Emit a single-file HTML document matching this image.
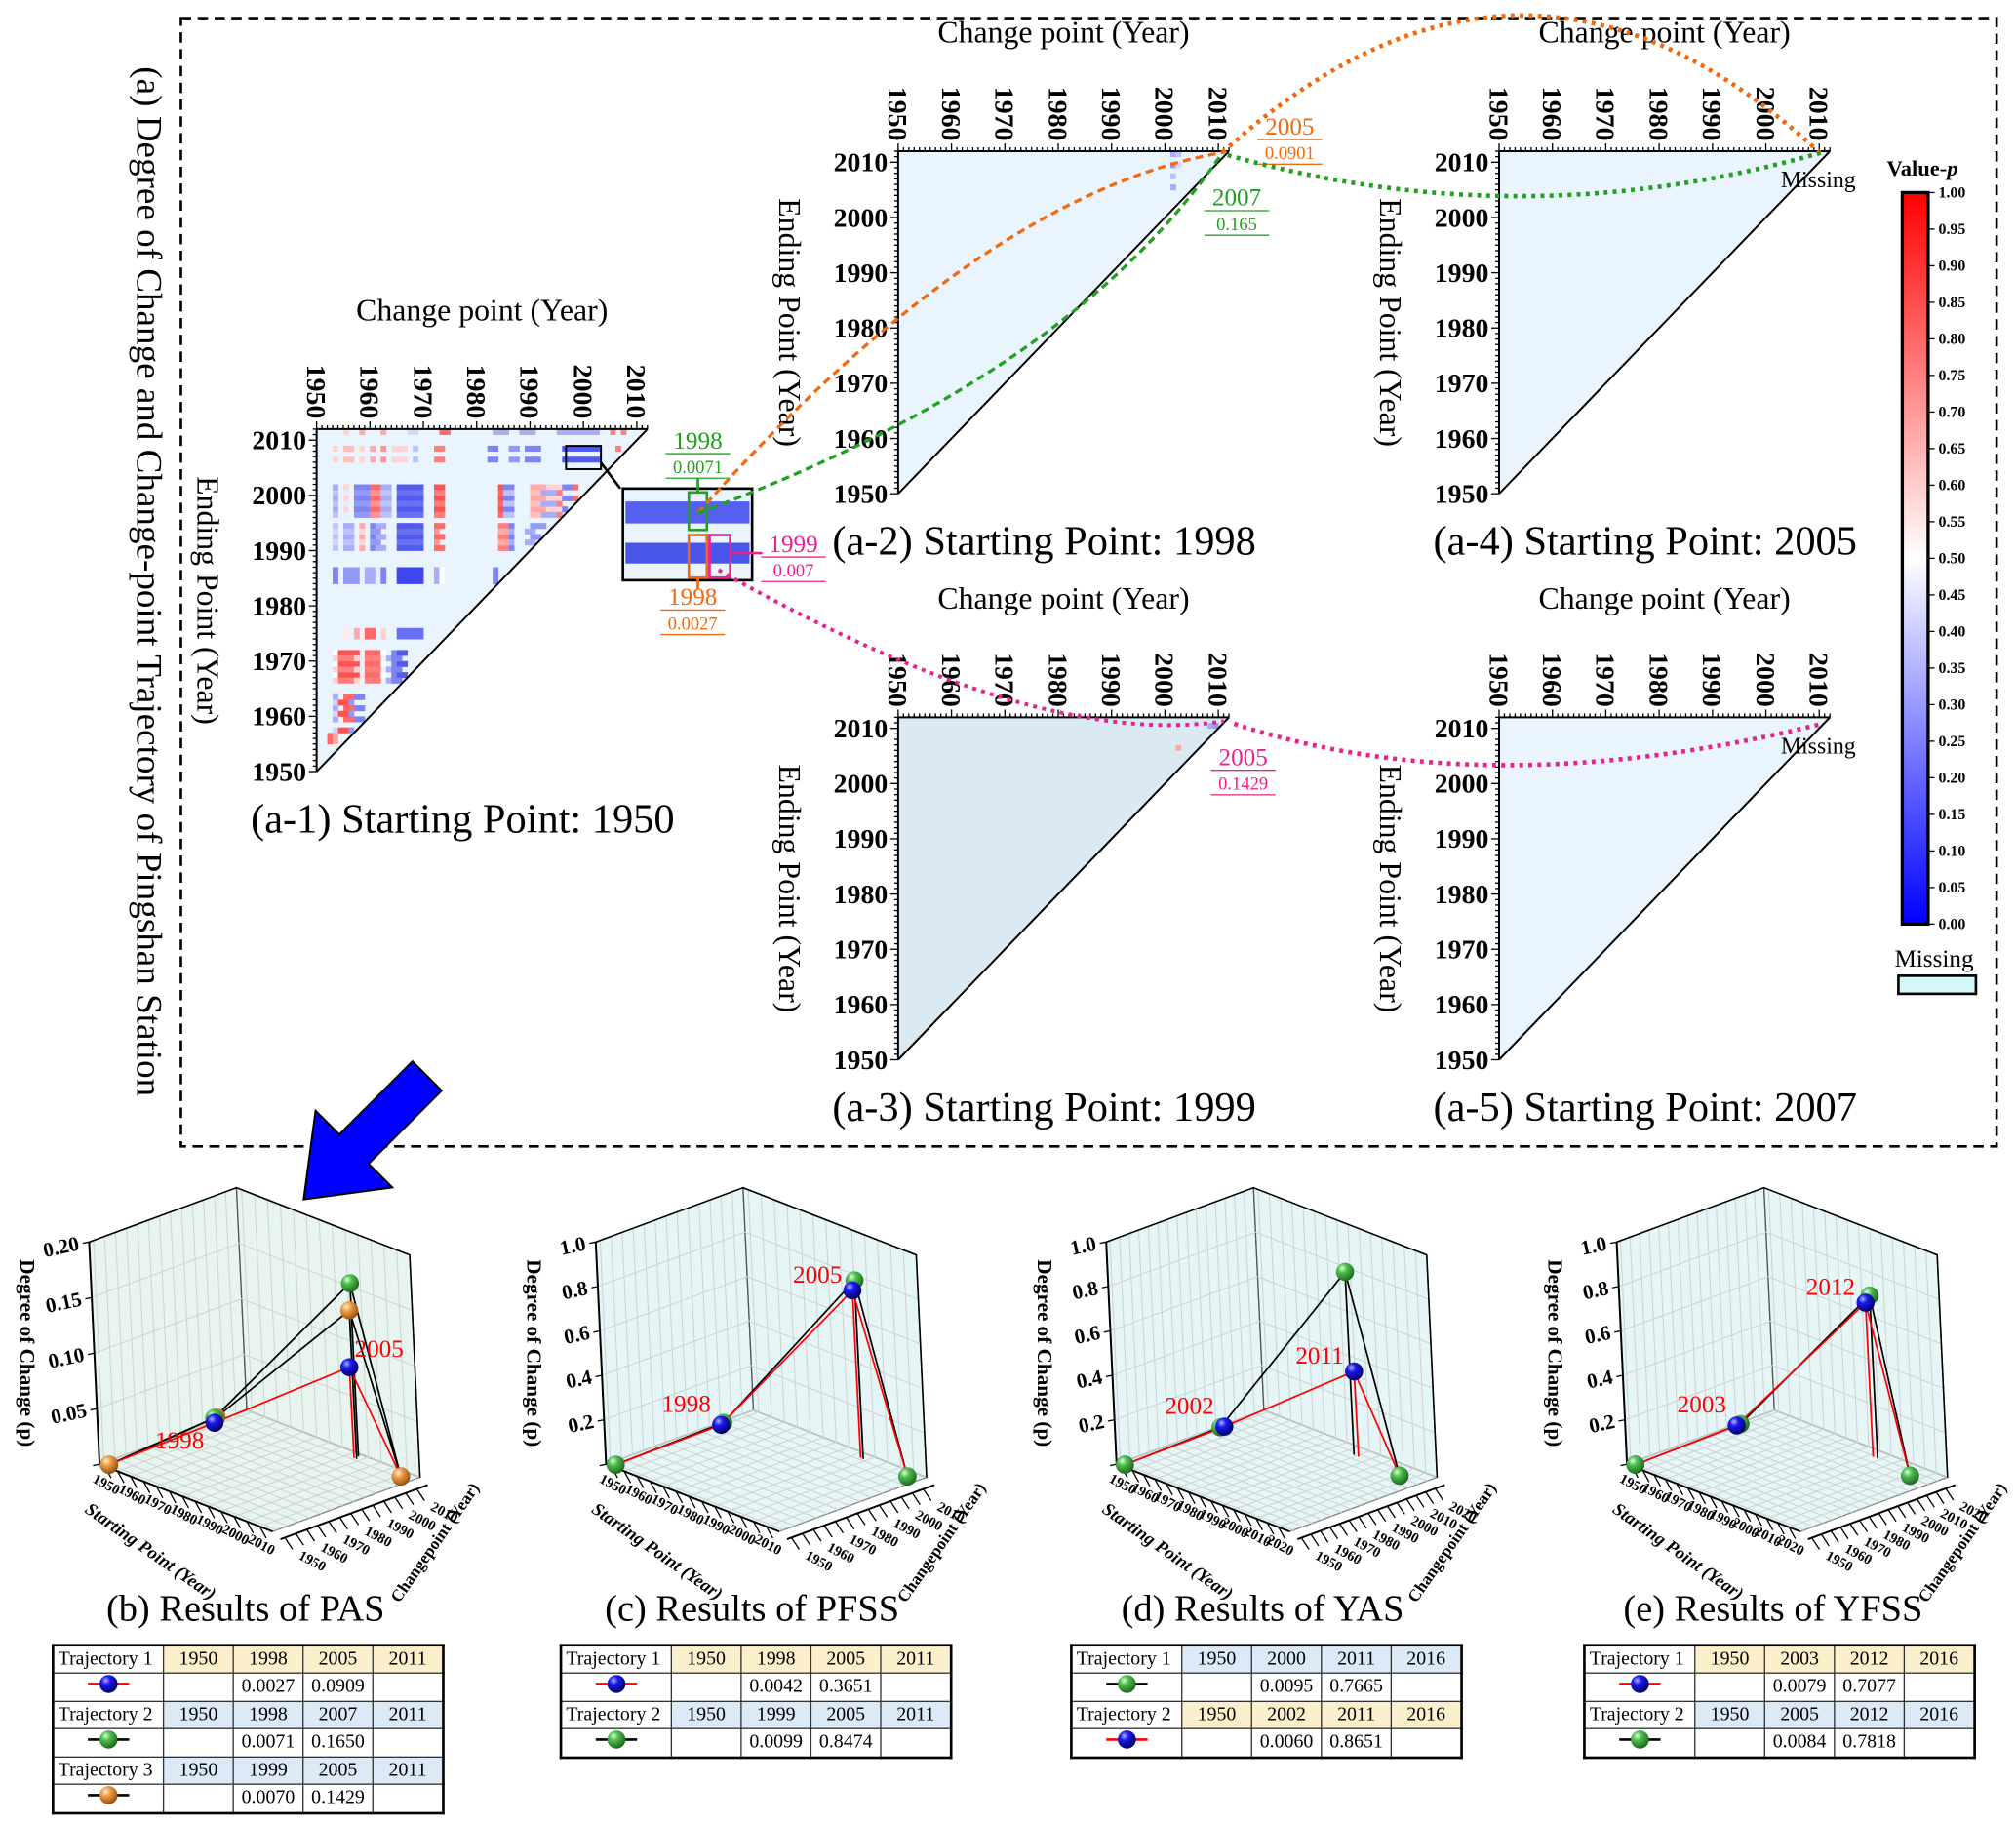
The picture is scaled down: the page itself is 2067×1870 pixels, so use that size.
<!DOCTYPE html>
<html><head><meta charset="utf-8">
<style>
html,body{margin:0;padding:0;background:#fff;width:2067px;height:1870px;overflow:hidden}
#root{width:1560px;height:1411px;transform:scale(1.325);transform-origin:0 0;position:relative}
svg text{font-family:"Liberation Serif",serif}
table.tr{position:absolute;border-collapse:collapse;font-family:"Liberation Serif",serif;font-size:15px;border:2px solid #000}
table.tr td{border:1px solid #333;height:20px;padding:0 3px;text-align:center;white-space:nowrap}
table.tr td.h{text-align:left;width:78px}
table.tr td.v{width:47px}
.y{background:#fbefcc}.b{background:#dce9f6}
</style></head><body>
<div id="root">
<svg id="svg" width="1560" height="1411" viewBox="0 0 1560 1411">
<defs>
<linearGradient id="cb" x1="0" y1="1" x2="0" y2="0">
<stop offset="0" stop-color="#0000ff"/><stop offset="0.5" stop-color="#ffffff"/><stop offset="1" stop-color="#ff0000"/>
</linearGradient>
<radialGradient id="gBlue" cx="0.35" cy="0.3" r="0.7"><stop offset="0" stop-color="#aab4ff"/><stop offset="0.35" stop-color="#1a1aee"/><stop offset="1" stop-color="#00006a"/></radialGradient>
<radialGradient id="gGreen" cx="0.35" cy="0.3" r="0.7"><stop offset="0" stop-color="#e2ffe0"/><stop offset="0.35" stop-color="#4fc04f"/><stop offset="1" stop-color="#1d6b1d"/></radialGradient>
<radialGradient id="gOrange" cx="0.35" cy="0.3" r="0.7"><stop offset="0" stop-color="#fff0d8"/><stop offset="0.35" stop-color="#f0a04a"/><stop offset="1" stop-color="#9a5310"/></radialGradient>
</defs>
<rect x="140" y="14" width="1405" height="873" fill="none" stroke="#000" stroke-width="2" stroke-dasharray="8,5"/>
<text x="0" y="0" transform="translate(106,450) rotate(90)" text-anchor="middle" font-size="28">(a) Degree of Change and Change-point Trajectory of Pingshan Station</text>
<g id="heat"></g>
<g id="deco"></g>
<g id="three"></g>
</svg>

<table class="tr" style="left:40px;top:1272px">
<tr><td class="h">Trajectory 1</td><td class="v y">1950</td><td class="v y">1998</td><td class="v y">2005</td><td class="v y">2011</td></tr>
<tr><td><svg width="40" height="16"><line x1="4" y1="8" x2="36" y2="8" stroke="red" stroke-width="2"/><circle cx="20" cy="8" r="7" fill="url(#gBlue)"/></svg></td><td></td><td>0.0027</td><td>0.0909</td><td></td></tr>
<tr><td class="h">Trajectory 2</td><td class="b">1950</td><td class="b">1998</td><td class="b">2007</td><td class="b">2011</td></tr>
<tr><td><svg width="40" height="16"><line x1="4" y1="8" x2="36" y2="8" stroke="#000" stroke-width="2"/><circle cx="20" cy="8" r="7" fill="url(#gGreen)"/></svg></td><td></td><td>0.0071</td><td>0.1650</td><td></td></tr>
<tr><td class="h">Trajectory 3</td><td class="b">1950</td><td class="b">1999</td><td class="b">2005</td><td class="b">2011</td></tr>
<tr><td><svg width="40" height="16"><line x1="4" y1="8" x2="36" y2="8" stroke="#000" stroke-width="2"/><circle cx="20" cy="8" r="7" fill="url(#gOrange)"/></svg></td><td></td><td>0.0070</td><td>0.1429</td><td></td></tr>
</table>
<table class="tr" style="left:433px;top:1272px">
<tr><td class="h">Trajectory 1</td><td class="v y">1950</td><td class="v y">1998</td><td class="v y">2005</td><td class="v y">2011</td></tr>
<tr><td><svg width="40" height="16"><line x1="4" y1="8" x2="36" y2="8" stroke="red" stroke-width="2"/><circle cx="20" cy="8" r="7" fill="url(#gBlue)"/></svg></td><td></td><td>0.0042</td><td>0.3651</td><td></td></tr>
<tr><td class="h">Trajectory 2</td><td class="b">1950</td><td class="b">1999</td><td class="b">2005</td><td class="b">2011</td></tr>
<tr><td><svg width="40" height="16"><line x1="4" y1="8" x2="36" y2="8" stroke="#000" stroke-width="2"/><circle cx="20" cy="8" r="7" fill="url(#gGreen)"/></svg></td><td></td><td>0.0099</td><td>0.8474</td><td></td></tr>
</table>
<table class="tr" style="left:828px;top:1272px">
<tr><td class="h">Trajectory 1</td><td class="v b">1950</td><td class="v b">2000</td><td class="v b">2011</td><td class="v b">2016</td></tr>
<tr><td><svg width="40" height="16"><line x1="4" y1="8" x2="36" y2="8" stroke="#000" stroke-width="2"/><circle cx="20" cy="8" r="7" fill="url(#gGreen)"/></svg></td><td></td><td>0.0095</td><td>0.7665</td><td></td></tr>
<tr><td class="h">Trajectory 2</td><td class="y">1950</td><td class="y">2002</td><td class="y">2011</td><td class="y">2016</td></tr>
<tr><td><svg width="40" height="16"><line x1="4" y1="8" x2="36" y2="8" stroke="red" stroke-width="2"/><circle cx="20" cy="8" r="7" fill="url(#gBlue)"/></svg></td><td></td><td>0.0060</td><td>0.8651</td><td></td></tr>
</table>
<table class="tr" style="left:1225px;top:1272px">
<tr><td class="h">Trajectory 1</td><td class="v y">1950</td><td class="v y">2003</td><td class="v y">2012</td><td class="v y">2016</td></tr>
<tr><td><svg width="40" height="16"><line x1="4" y1="8" x2="36" y2="8" stroke="red" stroke-width="2"/><circle cx="20" cy="8" r="7" fill="url(#gBlue)"/></svg></td><td></td><td>0.0079</td><td>0.7077</td><td></td></tr>
<tr><td class="h">Trajectory 2</td><td class="b">1950</td><td class="b">2005</td><td class="b">2012</td><td class="b">2016</td></tr>
<tr><td><svg width="40" height="16"><line x1="4" y1="8" x2="36" y2="8" stroke="#000" stroke-width="2"/><circle cx="20" cy="8" r="7" fill="url(#gGreen)"/></svg></td><td></td><td>0.0084</td><td>0.7818</td><td></td></tr>
</table>
</div>
<script>
// ---------- heatmap data (a-1) : bands of ending years and [changeStart, changeEnd, p] segments
const bandEnds = [
 [2011],[2008,2006],[2001,1999,1997],[2000,1998,1996],[1994,1992,1990],[1993,1991],
 [1986,1985,1984],[1975,1974],[1971,1969,1967],[1970,1968,1966],[1963,1961,1959],[1962,1960,1957],[1956,1955]
];
const bandSegs = [
 [[1955,1955,.6],[1958,1958,.7],[1962,1962,.7],[1967,1968,.4],[1973,1974,.85],[1983,1985,.3],[1988,1990,.3],[1995,2002,.3],[2005,2005,.8],[2007,2007,.8]],
 [[1953,1953,.6],[1955,1956,.65],[1958,1958,.6],[1960,1960,.7],[1962,1962,.75],[1964,1966,.6],[1968,1968,.35],[1972,1973,.8],[1982,1983,.2],[1986,1987,.25],[1989,1991,.2],[1996,2002,.1],[2006,2006,.8]],
 [[1953,1953,.3],[1955,1955,.6],[1957,1959,.2],[1960,1961,.85],[1962,1963,.3],[1965,1969,.1],[1972,1973,.9],[1984,1984,.9],[1985,1986,.2],[1990,1992,.7],[1993,1995,.6],[1996,1997,.2],[1998,1998,.85]],
 [[1953,1953,.35],[1955,1955,.45],[1957,1959,.25],[1960,1961,.75],[1962,1963,.35],[1965,1969,.15],[1972,1973,.8],[1984,1984,.85],[1985,1986,.35],[1990,1991,.65],[1992,1994,.3],[1995,1995,.8]],
 [[1953,1953,.35],[1955,1956,.3],[1958,1958,.7],[1960,1960,.2],[1961,1962,.3],[1965,1969,.1],[1972,1973,.85],[1984,1985,.8],[1986,1986,.2],[1990,1992,.25]],
 [[1953,1953,.4],[1955,1956,.35],[1958,1958,.6],[1960,1961,.25],[1965,1969,.15],[1972,1972,.75],[1984,1985,.7],[1986,1986,.3],[1989,1990,.3]],
 [[1953,1953,.2],[1955,1957,.25],[1959,1960,.3],[1961,1961,.45],[1962,1962,.2],[1965,1969,.05],[1972,1972,.3],[1973,1973,.5],[1983,1983,.2]],
 [[1955,1955,.55],[1957,1957,.7],[1959,1960,.85],[1962,1962,.6],[1965,1969,.15]],
 [[1953,1953,.5],[1954,1957,.9],[1959,1961,.85],[1962,1962,.5],[1964,1964,.2],[1965,1966,.1]],
 [[1953,1953,.6],[1954,1956,.8],[1957,1957,.6],[1959,1961,.8],[1963,1963,.3],[1964,1965,.2]],
 [[1953,1953,.3],[1955,1956,.85],[1957,1958,.2]],
 [[1953,1953,.4],[1954,1955,.9],[1956,1956,.25]],
 [[1952,1952,.85],[1953,1953,.7]]
];
// a-2 and a-3 sparse cells: [change, end, p]
const a2Cells = [[2001,2011,.3],[2002,2011,.35],[2001,2009,.25],[2002,2009,.4],[2001,2007,.35],[2001,2005,.3],[2001,2001,.7]];
const a3Cells = [[2002,2006,.7],[2008,2007,.6],[2009,2010,.25],[2008,2010,.3]];
// colorbar ticks
const cbTicks = ["0.00","0.05","0.10","0.15","0.20","0.25","0.30","0.35","0.40","0.45","0.50","0.55","0.60","0.65","0.70","0.75","0.80","0.85","0.90","0.95","1.00"];
const yearTicks = [1950,1960,1970,1980,1990,2000,2010];

// ---------- 3D panel data
const panelTitles = ["(b) Results of PAS","(c) Results of PFSS","(d) Results of YAS","(e) Results of YFSS"];
const panelZmax = [0.2,1.0,1.0,1.0];
const panelYmax = [2015,2015,2025,2025];
const zTicksB = ["0.00","0.05","0.10","0.15","0.20"];
const zTicksOther = ["0.0","0.2","0.4","0.6","0.8","1.0"];
// trajectories: colors and points [start, change, p]
const trajB = [
 {ball:"gOrange",line:"#000",pts:[[1950,1950,0],[1950,1999,0.007],[1999,2005,0.143],[2011,2011,0]]},
 {ball:"gGreen",line:"#000",pts:[[1950,1950,0],[1950,1998,0.0071],[1998,2007,0.165],[2011,2011,0]]},
 {ball:"gBlue",line:"red",pts:[[1950,1950,0],[1950,1998,0.0027],[1998,2005,0.0909],[2011,2011,0]]}];
const trajC = [
 {ball:"gGreen",line:"#000",pts:[[1950,1950,0],[1950,1999,0.0099],[1999,2005,0.85],[2011,2011,0]]},
 {ball:"gBlue",line:"red",pts:[[1950,1950,0],[1950,1998,0.0042],[1998,2005,0.80],[2011,2011,0]]}];
const trajD = [
 {ball:"gGreen",line:"#000",pts:[[1950,1950,0],[1950,2000,0.0095],[2000,2011,0.87],[2016,2016,0]]},
 {ball:"gBlue",line:"red",pts:[[1950,1950,0],[1950,2002,0.006],[2002,2011,0.43],[2016,2016,0]]}];
const trajE = [
 {ball:"gGreen",line:"#000",pts:[[1950,1950,0],[1950,2005,0.0084],[2005,2012,0.78],[2016,2016,0]]},
 {ball:"gBlue",line:"red",pts:[[1950,1950,0],[1950,2003,0.0079],[2003,2012,0.74],[2016,2016,0]]}];
const panelTraj = [trajB,trajC,trajD,trajE];
const panelLabels = [[["1998",1950,1998,0.0027],["2005",1998,2005,0.0909]],[["1998",1950,1998,0.0042],["2005",1998,2005,0.80]],[["2002",1950,2002,0.006],["2011",2002,2011,0.43]],[["2003",1950,2003,0.0079],["2012",2003,2012,0.74]]];

const NS="http://www.w3.org/2000/svg";
function mk(tag,attrs,parent,txt){const e=document.createElementNS(NS,tag);for(const k in attrs)e.setAttribute(k,attrs[k]);if(txt!==undefined)e.textContent=txt;parent.appendChild(e);return e;}
function pcol(p){let r,g,b;if(p<0.5){const t=p/0.5;r=Math.round(40+215*t);g=Math.round(50+205*t);b=Math.round(235+20*t);}else{const t=(p-0.5)/0.5;r=255;g=Math.round(255-215*t);b=Math.round(255-215*t);}return `rgb(${r},${g},${b})`;}

const heat=document.getElementById('heat');
function heatPanel(id,x0,y0,fill,caption,cells){
  const w=256,h=265,Y0=1950,Y1=2012;
  const xs=v=>x0+(v-Y0)/(Y1-Y0)*w, ys=v=>y0+h-(v-Y0)/(Y1-Y0)*h;
  const g=mk('g',{},heat);
  
  
  const tri=mk('polygon',{points:`${x0},${y0+h} ${x0},${y0} ${x0+w},${y0}`,fill:fill},g);
  
  
  const cw=w/(Y1-Y0), ch=h/(Y1-Y0);
  cells.forEach(c=>{
    if(c[0]>=c[1]) return;
    const r=mk('rect',{x:xs(c[0]),y:ys(c[1]+1),width:cw+0.3,height:ch+0.3,fill:pcol(c[2])},g);
    
    
  });
  mk('line',{x1:x0,y1:y0+h,x2:x0+w,y2:y0,stroke:'#000','stroke-width':1.5},g);
  mk('line',{x1:x0,y1:y0+h,x2:x0,y2:y0,stroke:'#000','stroke-width':1.5},g);
  mk('line',{x1:x0,y1:y0,x2:x0+w,y2:y0,stroke:'#000','stroke-width':1.5},g);
  for(let yr=1950;yr<=2012;yr++){
    const L=(yr%10==0)?6:3;
    mk('line',{x1:xs(yr),y1:y0,x2:xs(yr),y2:y0-L,stroke:'#000','stroke-width':1},g);
    mk('line',{x1:x0,y1:ys(yr),x2:x0-L,y2:ys(yr),stroke:'#000','stroke-width':1},g);
  }
  yearTicks.forEach(yr=>{
    const t1=mk('text',{x:0,y:0,transform:`translate(${xs(yr)},${y0-8}) rotate(90)`,'text-anchor':'end',dy:'0.35em','font-size':21,'font-weight':'bold'},g,yr);
    
    
    const t2=mk('text',{x:x0-8,y:ys(yr)+7,'text-anchor':'end','font-size':21,'font-weight':'bold'},g,yr);
    
    
  });
  const xt=mk('text',{x:x0+w/2,y:y0-84,'text-anchor':'middle','font-size':24},g,'Change point (Year)');
  
  
  const yt=mk('text',{x:0,y:0,transform:`translate(${x0-92},${y0+h/2}) rotate(90)`,'text-anchor':'middle','font-size':24},g,'Ending Point (Year)');
  
  
  const cp=mk('text',{x:x0+w/2-15,y:y0+h+47,'text-anchor':'middle','font-size':32},g,caption);
  
  
}
const a1Cells=[];
bandEnds.forEach((ends,i)=>{ends.forEach(e=>{bandSegs[i].forEach(s=>{for(let c=s[0];c<=s[1];c++)a1Cells.push([c,e,s[2]]);});});});
heatPanel('a1',245,332,'#eaf4fc','(a-1) Starting Point: 1950',a1Cells);
heatPanel('a2',695,117,'#eaf4fc','(a-2) Starting Point: 1998',a2Cells);
heatPanel('a4',1160,117,'#eaf4fc','(a-4) Starting Point: 2005',[]);
heatPanel('a3',695,555,'#dbe9f3','(a-3) Starting Point: 1999',a3Cells);
heatPanel('a5',1160,555,'#eaf4fc','(a-5) Starting Point: 2007',[]);

// colorbar
const deco=document.getElementById('deco');
const cbx=1472,cby0=149,cby1=715;
const cbr=mk('rect',{x:cbx,y:cby0,width:20,height:cby1-cby0,fill:'url(#cb)',stroke:'#000','stroke-width':2.5},deco);


cbTicks.forEach((t,i)=>{
  const y=cby1-i*(cby1-cby0)/(cbTicks.length-1);
  mk('line',{x1:cbx+20,y1:y,x2:cbx+25,y2:y,stroke:'#000'},deco);
  const tx=mk('text',{x:cbx+28,y:y+4,'font-size':12,'font-weight':'bold'},deco,t);
  
  
});
</script>
<script>
// decorative annotations
(function(){
const d=document.getElementById('deco');
function el(tag,a,txt,name){const e=mk(tag,a,d,txt);return e;}
el('text',{x:1460,y:136,'font-size':17,'font-weight':'bold'},'Value-','colorbar-title').appendChild((()=>{const s=document.createElementNS(NS,'tspan');s.setAttribute('font-style','italic');s.textContent='p';return s;})());
el('text',{x:1466,y:748,'font-size':19},'Missing','missing-legend-label');
el('rect',{x:1469,y:755,width:60,height:14,fill:'#d6f7fa',stroke:'#000','stroke-width':2},'','missing-legend-box');
// inset
el('rect',{x:438,y:345,width:27,height:18,fill:'none',stroke:'#000','stroke-width':1.5},'','zoom-source-box');
el('line',{x1:465,y1:358,x2:480,y2:378,stroke:'#000','stroke-width':2},'','zoom-connector');
el('rect',{x:482,y:378,width:100,height:71,fill:'#eaf4fc',stroke:'#000','stroke-width':2},'','zoom-inset');
el('rect',{x:484,y:388,width:96,height:17,fill:'#5560ee'},'','inset-stripe-1');
el('rect',{x:484,y:420,width:96,height:16,fill:'#4a55ea'},'','inset-stripe-2');
el('rect',{x:533,y:381,width:14,height:29,fill:'none',stroke:'#22a022','stroke-width':2},'','inset-green-box');
el('rect',{x:533,y:414,width:14,height:33,fill:'none',stroke:'#f06a10','stroke-width':2},'','inset-orange-box');
el('rect',{x:549,y:414,width:16,height:33,fill:'none',stroke:'#e8238f','stroke-width':2},'','inset-pink-box');
el('line',{x1:565,y1:428,x2:590,y2:428,stroke:'#e8238f','stroke-width':2},'','pink-leader');
el('line',{x1:540,y1:381,x2:540,y2:370,stroke:'#22a022','stroke-width':2},'','green-leader');
el('line',{x1:540,y1:447,x2:540,y2:456,stroke:'#f06a10','stroke-width':2},'','orange-leader');
function lab(x,y,t1,t2,c,n){el('text',{x:x,y:y,'font-size':19,fill:c,'text-anchor':'middle'},t1,n+'-year');el('line',{x1:x-25,y1:y+4,x2:x+25,y2:y+4,stroke:c},'',n+'-underline');el('text',{x:x,y:y+19,'font-size':14,fill:c,'text-anchor':'middle'},t2,n+'-value');el('line',{x1:x-25,y1:y+23,x2:x+25,y2:y+23,stroke:c},'',n+'-underline2');}
lab(540,347,'1998','0.0071','#22a022','inset-green-label');
lab(614,427,'1999','0.007','#e8238f','inset-pink-label');
lab(536,468,'1998','0.0027','#f06a10','inset-orange-label');
lab(998,104,'2005','0.0901','#f06a10','a2-orange-label');
lab(957,159,'2007','0.165','#22a022','a2-green-label');
lab(962,592,'2005','0.1429','#e8238f','a3-pink-label');
el('text',{x:1378,y:145,'font-size':18},'Missing','a4-missing-label');
el('text',{x:1378,y:583,'font-size':18},'Missing','a5-missing-label');
// curves
el('path',{d:'M540,397 Q760,150 946,118',fill:'none',stroke:'#f06a10','stroke-width':2.5,'stroke-dasharray':'6,4'},'','orange-trajectory-1');
el('path',{d:'M540,397 Q830,290 946,118',fill:'none',stroke:'#22a022','stroke-width':2.5,'stroke-dasharray':'6,4'},'','green-trajectory-1');
el('path',{d:'M946,118 Q1180,-95 1410,120',fill:'none',stroke:'#f06a10','stroke-width':3.5,'stroke-dasharray':'3,4'},'','orange-trajectory-2');
el('path',{d:'M950,120 Q1180,185 1413,117',fill:'none',stroke:'#22a022','stroke-width':3.5,'stroke-dasharray':'3,4'},'','green-trajectory-2');
el('path',{d:'M556,441 Q800,580 947,558',fill:'none',stroke:'#e8238f','stroke-width':3,'stroke-dasharray':'3,4'},'','pink-trajectory-1');
el('path',{d:'M955,560 Q1150,624 1410,560',fill:'none',stroke:'#e8238f','stroke-width':3.5,'stroke-dasharray':'3,4'},'','pink-trajectory-2');
// big arrow
el('polygon',{points:'0,0 -55,-42 -55,-16 -135,-16 -135,16 -55,16 -55,42',transform:'translate(235,928) rotate(135)',fill:'#0000ff',stroke:'#000','stroke-width':1.5},'','blue-arrow');
})();

// 3D panels
(function(){
const root=document.getElementById('three');
const offs=[0,392,787,1182];
panelTitles.forEach((title,k)=>{
  const ox=offs[k];
  const g=mk('g',{transform:`translate(${ox},0)`},root);
  
  
  const ymin=1948,ymax=panelYmax[k],zmax=panelZmax[k];
  const A=[77,1133],F=[211,1185],BB=[191,1091],UP=[-8,-172];
  const eS=[(F[0]-A[0])/(ymax-ymin),(F[1]-A[1])/(ymax-ymin)], eC=[(BB[0]-A[0])/(ymax-ymin),(BB[1]-A[1])/(ymax-ymin)];
  const P=(s,c,z)=>[A[0]+(s-ymin)*eS[0]+(c-ymin)*eC[0]+z/zmax*UP[0], A[1]+(s-ymin)*eS[1]+(c-ymin)*eC[1]+z/zmax*UP[1]];
  const pt=a=>a[0].toFixed(1)+','+a[1].toFixed(1);
  const fill = k==0?'#e8f5ee':'#e6f5f6';
  mk('polygon',{points:[P(ymin,ymin,0),P(ymax,ymin,0),P(ymax,ymax,0),P(ymin,ymax,0)].map(pt).join(' '),fill:fill,stroke:'#888'},g);
  mk('polygon',{points:[P(ymin,ymin,0),P(ymin,ymax,0),P(ymin,ymax,zmax),P(ymin,ymin,zmax)].map(pt).join(' '),fill:fill,stroke:'#555'},g);
  mk('polygon',{points:[P(ymin,ymax,0),P(ymax,ymax,0),P(ymax,ymax,zmax),P(ymin,ymax,zmax)].map(pt).join(' '),fill:fill,stroke:'#555'},g);
  for(let v=1950;v<ymax;v+=5){
    [[P(v,ymin,0),P(v,ymax,0)],[P(ymin,v,0),P(ymax,v,0)],[P(ymin,v,0),P(ymin,v,zmax)],[P(v,ymax,0),P(v,ymax,zmax)]].forEach(l=>mk('line',{x1:l[0][0],y1:l[0][1],x2:l[1][0],y2:l[1][1],stroke:'#cfd3d6','stroke-width':0.8},g));
  }
  const zt = k==0?zTicksB:zTicksOther;
  zt.forEach((t,i)=>{
    const z=i*zmax/(zt.length-1);
    const a=P(ymin,ymin,z),b=P(ymin,ymax,z),c=P(ymax,ymax,z);
    mk('polyline',{points:[a,b,c].map(pt).join(' '),fill:'none',stroke:'#cfd3d6','stroke-width':0.8},g);
    mk('line',{x1:a[0],y1:a[1],x2:a[0]-5,y2:a[1]+1,stroke:'#000'},g);
    if(i==0) return;
    const tx=mk('text',{x:0,y:0,transform:`translate(${a[0]-7},${a[1]+6}) rotate(-12)`,'text-anchor':'end','font-size':16,'font-weight':'bold'},g,t);
    
    
  });
  const top=P(ymin,ymin,zmax), bot=P(ymin,ymin,0);
  mk('line',{x1:bot[0],y1:bot[1],x2:top[0],y2:top[1],stroke:'#000','stroke-width':1.5},g);
  mk('polyline',{points:[P(ymin,ymin,zmax),P(ymin,ymax,zmax),P(ymax,ymax,zmax),P(ymax,ymax,0)].map(pt).join(' '),fill:'none',stroke:'#000','stroke-width':1.2},g);
  const zt2=mk('text',{x:0,y:0,transform:`translate(16,${(top[1]+bot[1])/2}) rotate(90)`,'text-anchor':'middle','font-size':16,'font-weight':'bold'},g,'Degree of Change (p)');
  
  
  const s0=P(ymin,ymin,0),s1=P(ymax,ymin,0),c1=P(ymax,ymax,0);
  const dx=6,dy=6;
  mk('line',{x1:s0[0],y1:s0[1],x2:s1[0],y2:s1[1],stroke:'#000','stroke-width':1.5},g);
  mk('line',{x1:s1[0]+dx,y1:s1[1]+dy,x2:c1[0]+dx,y2:c1[1]+dy,stroke:'#000','stroke-width':1.5},g);
  for(let v=1950;v<=ymax-5;v+=5){
    const a=P(v,ymin,0); mk('line',{x1:a[0],y1:a[1],x2:a[0]+5,y2:a[1]+9,stroke:'#000'},g);
    const b=P(ymax,v,0); mk('line',{x1:b[0]+dx,y1:b[1]+dy,x2:b[0]+dx+6,y2:b[1]+dy+9,stroke:'#000'},g);
    if(v%10==0){
      const t1=mk('text',{x:0,y:0,transform:`translate(${a[0]-10},${a[1]+12}) rotate(28)`,'text-anchor':'start','font-size':11,'font-weight':'bold'},g,v);
      
      
      const t2=mk('text',{x:0,y:0,transform:`translate(${b[0]+dx+10},${b[1]+dy+16}) rotate(28)`,'font-size':11,'font-weight':'bold'},g,v);
      
      
    }
  }
  const st=mk('text',{x:0,y:0,transform:`translate(${(s0[0]+s1[0])/2-30},${(s0[1]+s1[1])/2+45}) rotate(35)`,'text-anchor':'middle','font-size':14,'font-weight':'bold','font-style':'italic'},g,'Starting Point (Year)');
  
  
  const ct=mk('text',{x:0,y:0,transform:`translate(${(s1[0]+c1[0])/2+72},${(s1[1]+c1[1])/2+32}) rotate(-55)`,'text-anchor':'middle','font-size':13,'font-weight':'bold'},g,'Changepoint (Year)');
  
  
  panelTraj[k].forEach(tr=>{
    const ps=tr.pts.map(p=>P(p[0],p[1],p[2]));
    const pl=mk('polyline',{points:ps.map(pt).join(' '),fill:'none',stroke:tr.line,'stroke-width':1.3},g);
    
    
    tr.pts.forEach(p=>{ if(p[2]>0.02*zmax && p[2]>0){const a=P(p[0],p[1],p[2]),b=P(p[0],p[1],0);mk('line',{x1:a[0],y1:a[1],x2:b[0],y2:b[1]-8,stroke:tr.line,'stroke-width':1.3},g);} });
  });
  panelTraj[k].forEach(tr=>{
    tr.pts.forEach(p=>{
      if(p[2]===0) return;
      const a=P(p[0],p[1],p[2]);
      const c=mk('circle',{cx:a[0],cy:a[1],r:7,fill:`url(#${tr.ball})`},g);
      
      
    });
  });
  panelTraj[k].slice().reverse().forEach(tr=>{
    tr.pts.forEach(p=>{
      if(p[2]!==0) return;
      const a=P(p[0],p[1],p[2]);
      const c=mk('circle',{cx:a[0],cy:a[1],r:7,fill:`url(#${tr.ball})`},g);
      
      
    });
  });
  panelLabels[k].forEach(l=>{
    const a=P(l[1],l[2],l[3]);
    const t=mk('text',{x:a[0]+(k==0&&l[0]=='2005'?4:-8),y:a[1]+(l[3]<0.05*zmax?-10:-6)+(k==0&&l[0]=='1998'?30:0),'text-anchor':(k==0&&l[0]=='2005')?'start':'end','font-size':19,fill:'red','font-family':'Liberation Sans Narrow, Liberation Sans, sans-serif'},g,l[0]);
    if(k==0&&l[0]=='2005'){t.setAttribute('y',a[1]-8);}
    
    
  });
  const cap=mk('text',{x:190,y:1254,'text-anchor':'middle','font-size':29},g,title);
  
  
});
})();
</script>
</body></html>
